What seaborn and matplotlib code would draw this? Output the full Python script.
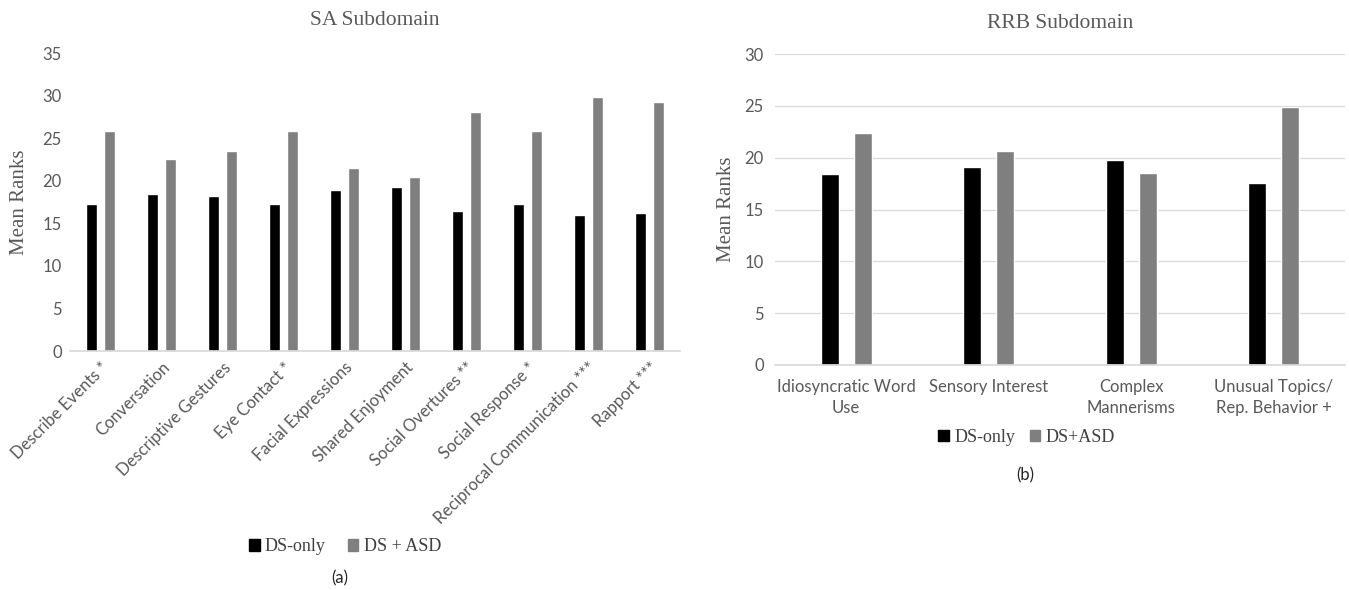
import pandas as pd
import numpy as np
import matplotlib
matplotlib.use("Agg")
import matplotlib.pyplot as plt
import seaborn as sns

# SA subdomain (left panel)
sa_items = ['Describe Events *', 'Conversation', 'Descriptive Gestures', 'Eye Contact *',
            'Facial Expressions', 'Shared Enjoyment', 'Social Overtures **', 'Social Response *',
            'Reciprocal Communication ***', 'Rapport ***']
sa_ds_only = [17.3, 18.5, 18.2, 17.3, 18.9, 19.3, 16.5, 17.3, 16.0, 16.2]
sa_ds_asd = [25.9, 22.6, 23.5, 25.9, 21.5, 20.4, 28.1, 25.9, 29.8, 29.2]

# RRB subdomain (right panel)
rrb_items = ['Idiosyncratic Word\nUse', 'Sensory Interest', 'Complex\nMannerisms',
             'Unusual Topics/\nRep. Behavior +']
rrb_ds_only = [18.4, 19.1, 19.8, 17.6]
rrb_ds_asd = [22.4, 20.6, 18.5, 24.9]

sa_groups = ['DS-only', 'DS + ASD']
rrb_groups = ['DS-only', 'DS+ASD']

sa_df = pd.DataFrame({
    'item': sa_items * 2,
    'group': [sa_groups[0]] * len(sa_items) + [sa_groups[1]] * len(sa_items),
    'rank': sa_ds_only + sa_ds_asd,
})
rrb_df = pd.DataFrame({
    'item': rrb_items * 2,
    'group': [rrb_groups[0]] * len(rrb_items) + [rrb_groups[1]] * len(rrb_items),
    'rank': rrb_ds_only + rrb_ds_asd,
})

sns.set_theme(style="white")
plt.rcParams['font.family'] = ['Lato', 'DejaVu Sans']

SERIF = 'Liberation Serif'
TXT = '#595959'
BLACK = '#000000'
GREY = '#7f7f7f'

fig = plt.figure(figsize=(13.49, 5.90), dpi=100)
ax1 = fig.add_axes([0.052, 0.405, 0.452, 0.505])
ax2 = fig.add_axes([0.5745, 0.3814, 0.4225, 0.527])

# left panel
sns.barplot(data=sa_df, x='item', y='rank', hue='group', ax=ax1,
            palette=[BLACK, GREY], width=0.59, gap=0.39, legend=False)
ax1.set_ylim(0, 35)
ax1.set_yticks(np.arange(0, 36, 5))
ax1.set_xlim(-0.5, len(sa_items) - 0.5)
for s in ['top', 'right', 'left']:
    ax1.spines[s].set_visible(False)
ax1.spines['bottom'].set_color('#d9d9d9')
ax1.tick_params(axis='both', length=0, labelsize=12, labelcolor=TXT, pad=6)
plt.setp(ax1.get_xticklabels(), rotation=45, ha='right', rotation_mode='anchor')
ax1.set_xlabel('')
ax1.set_ylabel('Mean Ranks', family=SERIF, fontsize=15, color=TXT, labelpad=10)
ax1.set_title('SA Subdomain', family=SERIF, fontsize=15.5, color=TXT, pad=20)

# right panel
sns.barplot(data=rrb_df, x='item', y='rank', hue='group', ax=ax2,
            palette=[BLACK, GREY], width=0.463, gap=0.46, legend=False)
ax2.set_ylim(0, 30)
ax2.set_yticks(np.arange(0, 31, 5))
ax2.set_xlim(-0.5, len(rrb_items) - 0.5)
ax2.yaxis.grid(True, color='#d9d9d9', linewidth=0.9)
ax2.set_axisbelow(True)
for s in ['top', 'right', 'left']:
    ax2.spines[s].set_visible(False)
ax2.spines['bottom'].set_color('#d9d9d9')
ax2.tick_params(axis='y', length=0, labelsize=12, labelcolor=TXT, pad=8)
ax2.tick_params(axis='x', length=0, labelsize=12, labelcolor=TXT, pad=10)
plt.setp(ax2.get_xticklabels(), linespacing=1.4)
ax2.set_xlabel('')
ax2.set_ylabel('Mean Ranks', family=SERIF, fontsize=15, color=TXT, labelpad=6)
ax2.set_title('RRB Subdomain', family=SERIF, fontsize=15.5, color=TXT, pad=19)

# legends
def square_handles(labels):
    return [plt.Rectangle((0, 0), 1, 1, color=c) for c in (BLACK, GREY)], labels

h, l = square_handles(sa_groups)
fig.legend(h, l, loc='center', bbox_to_anchor=(0.2557, 0.073), ncol=2, frameon=False,
           handlelength=0.6, handleheight=0.6, handletextpad=0.3, columnspacing=1.2,
           prop={'family': SERIF, 'size': 13}, labelcolor='#404040')
h, l = square_handles(rrb_groups)
fig.legend(h, l, loc='center', bbox_to_anchor=(0.761, 0.259), ncol=2, frameon=False,
           handlelength=0.6, handleheight=0.6, handletextpad=0.3, columnspacing=0.8,
           prop={'family': SERIF, 'size': 13}, labelcolor='#404040')

fig.text(0.252, 0.02, '(a)', ha='center', va='center', fontsize=12, color='#262626')
fig.text(0.760, 0.195, '(b)', ha='center', va='center', fontsize=12, color='#262626')

fig.savefig('out.png', dpi=100, facecolor='white')
